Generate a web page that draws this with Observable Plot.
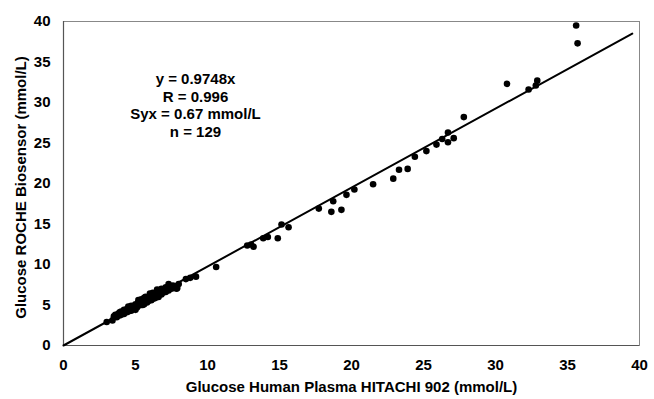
<!DOCTYPE html>
<html>
<head>
<meta charset="utf-8">
<script src="https://cdn.jsdelivr.net/npm/d3@7"></script>
<script src="https://cdn.jsdelivr.net/npm/@observablehq/plot@0.6"></script>
<style>
  html, body { margin: 0; padding: 0; background: #fff; }
</style>
</head>
<body>
<div id="chart"></div>
<script>
// Reference method (Hitachi 902) values, mmol/L
const hitachi = [
  3.0,3.4,3.5,3.6,3.7,3.8,3.9,4.0,4.1,4.2,
  4.3,4.4,4.4,4.5,4.6,4.6,4.7,4.8,4.8,4.9,
  4.9,5.0,5.0,5.1,5.1,5.2,5.2,5.3,5.3,5.4,
  5.4,5.5,5.5,5.6,5.6,5.7,5.7,5.8,5.8,5.9,
  5.9,6.0,6.0,6.1,6.1,6.2,6.2,6.3,6.3,6.4,
  6.4,6.5,6.5,6.6,6.6,6.7,6.7,6.8,6.8,6.9,
  6.9,7.0,7.0,7.1,7.2,7.3,7.4,7.5,7.6,7.7,
  7.9,8.0,
  5.0,5.5,6.0,4.5,5.2,6.3,5.8,6.5,4.2,3.9,7.1,5.6,6.1,4.7,5.4,
  4.0,5.7,6.8,6.2,
  7.3,7.85,8.5,8.8,9.2,10.6,
  12.76,13.03,13.2,13.87,14.19,14.88,15.14,15.63,17.73,18.6,18.73,19.3,19.65,20.2,21.5,22.9,
  35.6,35.7,30.8,32.3,32.8,32.9,27.8,26.7,26.3,27.1,26.7,25.9,25.2,24.4,23.9,23.3
];
// Test method (Roche biosensor) values, mmol/L
const roche = [
  2.9,3.1,3.6,3.8,3.5,3.9,3.7,3.8,4.0,3.9,
  4.3,4.1,4.5,4.2,4.6,4.4,4.3,4.7,4.5,4.9,
  4.6,4.8,5.1,4.7,5.0,5.3,4.9,5.1,5.4,5.0,
  5.2,5.6,5.3,5.1,5.5,5.7,5.4,5.6,5.9,5.5,
  5.8,6.1,5.7,5.9,6.2,5.8,6.0,6.4,6.1,5.9,
  6.3,6.6,6.2,6.4,6.0,6.7,6.5,6.3,6.6,6.8,
  6.5,6.7,6.9,6.6,7.0,6.8,7.2,7.0,7.4,7.3,
  7.1,7.6,
  4.4,5.0,6.4,4.8,5.6,5.8,5.3,6.9,4.4,4.1,7.2,5.9,5.6,4.9,5.7,
  4.2,6.0,7.0,6.5,
  7.6,7.0,8.2,8.35,8.5,9.7,
  12.35,12.47,12.2,13.25,13.4,13.25,14.94,14.6,16.9,16.5,17.8,16.75,18.6,19.26,19.9,20.6,
  39.5,37.3,32.3,31.6,32.1,32.7,28.2,26.3,25.5,25.6,25.1,24.8,24.0,23.3,21.8,21.7
];
const slope = 0.9748;
const lineEnds = [0, 39.5];
const ticks = [0, 5, 10, 15, 20, 25, 30, 35, 40];
const statsText = ["y = 0.9748x", "R = 0.996", "Syx = 0.67 mmol/L", "n = 129"];
const xLabel = "Glucose Human Plasma HITACHI 902 (mmol/L)";
const yLabel = "Glucose ROCHE Biosensor (mmol/L)";

const points = hitachi.map((x, i) => ({x, y: roche[i]}));
const fitLine = lineEnds.map(x => ({x, y: slope * x}));

const chart = Plot.plot({
  width: 654,
  height: 399,
  marginLeft: 63,
  marginRight: 15,
  marginTop: 21,
  marginBottom: 54,
  style: {fontFamily: "'Liberation Sans', Arial, sans-serif", fontSize: "15px", fontWeight: "bold", color: "#000", background: "#fff"},
  x: {domain: [0, 40], ticks: ticks},
  y: {domain: [0, 40], ticks: ticks},
  marks: [
    Plot.frame({stroke: "#888", strokeWidth: 1}),
    Plot.ruleX([0], {stroke: "#555", strokeWidth: 1.2}),
    Plot.ruleY([0], {stroke: "#555", strokeWidth: 1.2}),
    Plot.axisX({ticks: ticks, tickSize: 0, tickPadding: 14, label: null, fontSize: 15, fontWeight: "bold"}),
    Plot.axisY({ticks: ticks, tickSize: 0, tickPadding: 13, label: null, fontSize: 15, fontWeight: "bold"}),
    Plot.text([xLabel], {frameAnchor: "bottom", dy: 46, fontSize: 15, fontWeight: "bold", textAnchor: "middle"}),
    Plot.text([yLabel], {frameAnchor: "left", rotate: -90, dx: -42, dy: 4, fontSize: 15, fontWeight: "bold", textAnchor: "middle"}),
    Plot.line(fitLine, {x: "x", y: "y", stroke: "#000", strokeWidth: 2}),
    Plot.dot(points, {x: "x", y: "y", r: 3.3, fill: "#000", stroke: null}),
    Plot.text([statsText.join("\n")], {frameAnchor: "top-left", dx: 132, dy: 50, lineHeight: 1.18, fontSize: 15, fontWeight: "bold", textAnchor: "middle"})
  ]
});
document.getElementById("chart").appendChild(chart);
</script>
</body>
</html>
